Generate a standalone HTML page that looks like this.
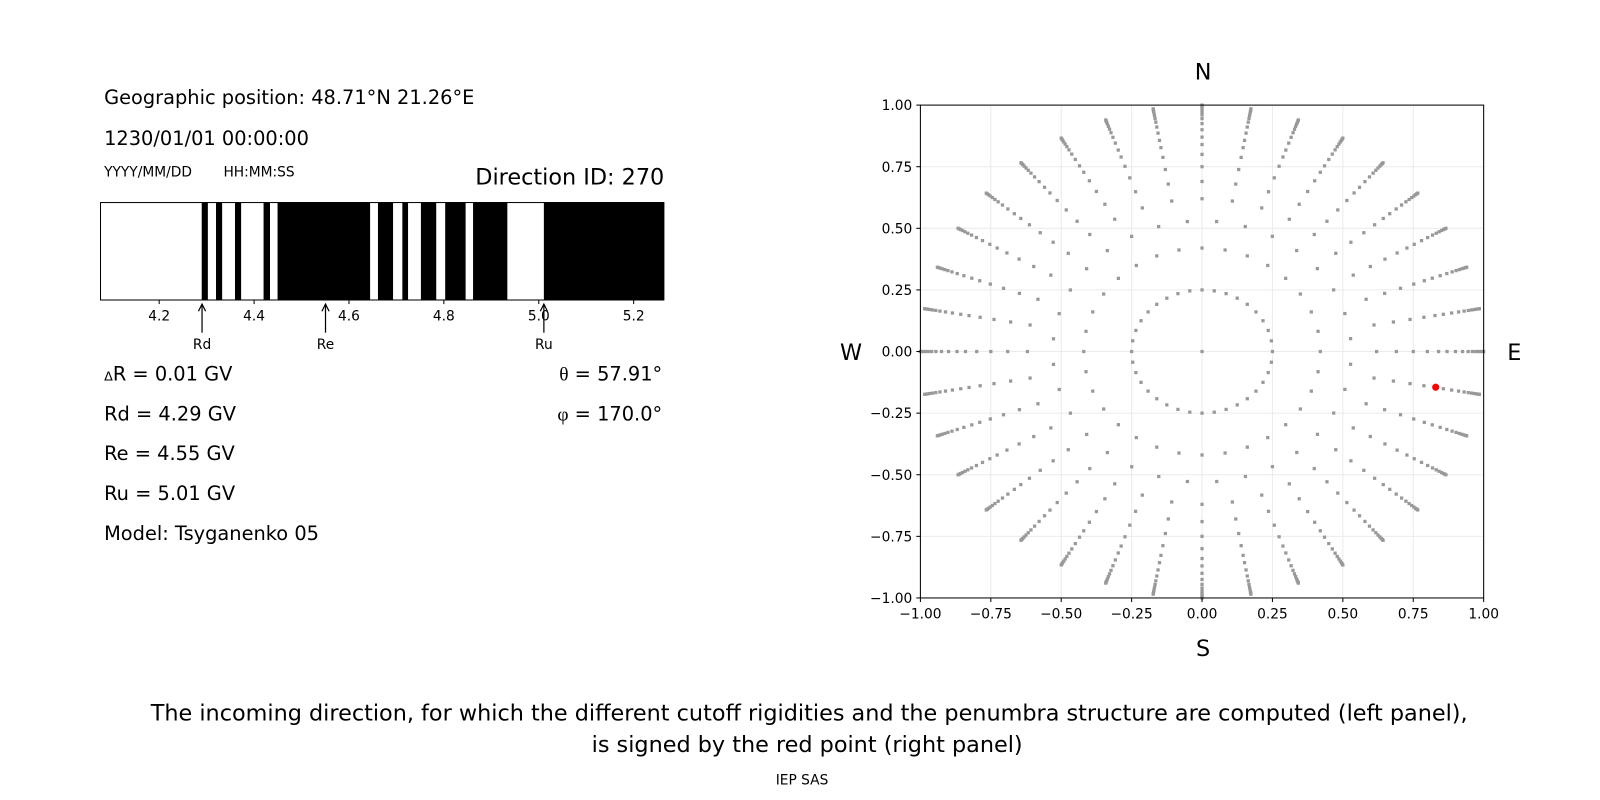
<!DOCTYPE html>
<html><head><meta charset="utf-8"><style>
html,body{margin:0;padding:0;background:#fff}
svg{display:block;font-family:"DejaVu Sans","Liberation Sans",sans-serif}
</style></head><body>
<svg id="s" width="1600" height="800" viewBox="0 0 1600 800" xmlns="http://www.w3.org/2000/svg">
<rect width="1600" height="800" fill="#fff"/>
<g transform="scale(1.0204)">
<text x="102" y="102" font-size="19">Geographic position: 48.71°N 21.26°E</text>
<text x="102" y="142" font-size="19">1230/01/01 00:00:00</text>
<text x="102" y="173" font-size="13.5">YYYY/MM/DD</text>
<text x="219" y="173" font-size="13.5">HH:MM:SS</text>
<text x="651" y="181" font-size="21.9" text-anchor="end">Direction ID: 270</text>
<g fill="#000" stroke="none">
<rect x="197.7" y="198" width="6" height="96"/>
<rect x="211.7" y="198" width="6" height="96"/>
<rect x="230.3" y="198" width="6" height="96"/>
<rect x="258.3" y="198" width="6.3" height="96"/>
<rect x="272" y="198" width="90.7" height="96"/>
<rect x="370.4" y="198" width="14.8" height="96"/>
<rect x="394.3" y="198" width="5.6" height="96"/>
<rect x="412.5" y="198" width="15" height="96"/>
<rect x="436.3" y="198" width="20" height="96"/>
<rect x="463.6" y="198" width="33.6" height="96"/>
<rect x="533" y="198" width="118" height="96"/>
</g>
<rect x="98.5" y="198.5" width="552" height="95.5" fill="none" stroke="#000" stroke-width="1"/>
<g stroke="#000" stroke-width="1">
<line x1="156" y1="294" x2="156" y2="298"/><line x1="249" y1="294" x2="249" y2="298"/>
<line x1="342" y1="294" x2="342" y2="298"/><line x1="435" y1="294" x2="435" y2="298"/>
<line x1="528" y1="294" x2="528" y2="298"/><line x1="621" y1="294" x2="621" y2="298"/>
</g>
<g font-size="13.5" text-anchor="middle">
<text x="156" y="314">4.2</text><text x="249" y="314">4.4</text><text x="342" y="314">4.6</text>
<text x="435" y="314">4.8</text><text x="528" y="314">5.0</text><text x="621" y="314">5.2</text>
</g>
<g stroke="#000" stroke-width="1.2" fill="none">
<line x1="198" y1="298" x2="198" y2="326"/><polyline points="194.5,305 198,298 201.5,305"/>
<line x1="319" y1="298" x2="319" y2="326"/><polyline points="315.5,305 319,298 322.5,305"/>
<line x1="533" y1="298" x2="533" y2="326"/><polyline points="529.5,305 533,298 536.5,305"/>
</g>
<g font-size="13.5" text-anchor="middle">
<text x="198" y="342">Rd</text><text x="319" y="342">Re</text><text x="533" y="342">Ru</text>
</g>
<g font-size="19">
<text x="102" y="373"><tspan font-size="12.5">Δ</tspan>R = 0.01 GV</text>
<text x="102" y="412">Rd = 4.29 GV</text>
<text x="102" y="451">Re = 4.55 GV</text>
<text x="102" y="490">Ru = 5.01 GV</text>
<text x="102" y="529">Model: Tsyganenko 05</text>
<text x="649" y="373" text-anchor="end"><tspan font-family="Liberation Serif,serif">θ</tspan> = 57.91°</text>
<text x="649" y="412" text-anchor="end"><tspan font-family="Liberation Serif,serif">φ</tspan> = 170.0°</text>
</g>
<g id="grid" stroke="#ebebeb" stroke-width="1"></g>
<g id="pts" fill="#999"></g>
<rect x="902" y="103" width="552" height="483" fill="none" stroke="#000" stroke-width="1"/>
<g id="ticks" stroke="#000" stroke-width="1"></g>
<g id="tl" font-size="13.5"></g>
<g font-size="21.9" text-anchor="middle">
<text x="1179" y="78">N</text><text x="1179" y="643">S</text>
<text x="834" y="353">W</text><text x="1484" y="353">E</text>
</g>
<circle cx="1407" cy="379.5" r="3.5" fill="#f00"/>
<g font-size="21.9" text-anchor="middle">
<text x="793" y="706">The incoming direction, for which the different cutoff rigidities and the penumbra structure are computed (left panel),</text>
<text x="791" y="737">is signed by the red point (right panel)</text>
</g>
<text x="786" y="769" font-size="13.5" text-anchor="middle">IEP SAS</text>
</g>
</svg>
<script>
var NS="http://www.w3.org/2000/svg";
function X(x){return 1178+276*x}function Y(y){return 344.5-241.5*y}
function el(p,t,a,txt){var e=document.createElementNS(NS,t);for(var k in a)e.setAttribute(k,a[k]);if(txt!==undefined)e.textContent=txt;document.getElementById(p).appendChild(e);}
var tv=[-1,-0.75,-0.5,-0.25,0,0.25,0.5,0.75,1];
var lab=["−1.00","−0.75","−0.50","−0.25","0.00","0.25","0.50","0.75","1.00"];
tv.forEach(function(v,i){
 el("grid","line",{x1:X(v),y1:103,x2:X(v),y2:586});
 el("grid","line",{x1:902,y1:Y(v),x2:1454,y2:Y(v)});
 el("ticks","line",{x1:X(v),y1:586,x2:X(v),y2:590});
 el("ticks","line",{x1:898,y1:Y(v),x2:902,y2:Y(v)});
 el("tl","text",{x:X(v),y:606,"text-anchor":"middle"},lab[i]);
 el("tl","text",{x:894,y:Y(v)+5,"text-anchor":"end"},lab[i]);
});
function pt(r,a){var x=r*Math.sin(a),y=r*Math.cos(a);el("pts","rect",{x:X(x)-1.6,y:Y(y)-1.6,width:3.2,height:3.2});}
pt(0,0);
var d=Math.PI/180;
for(var k=0;k<36;k++)pt(0.25,k*10*d);
for(var k=0;k<32;k++){pt(0.42,(k*11.25)*d);}
for(var k=0;k<32;k++){pt(0.53,(k*11.25+5.6)*d);}
var R=[0.62,0.69,0.75,0.80,0.84,0.87,0.90,0.925,0.945,0.96,0.972,0.982,0.99,0.996,1.0];
for(var k=0;k<36;k++)R.forEach(function(r){pt(r,k*10*d);});
</script>
</body></html>
